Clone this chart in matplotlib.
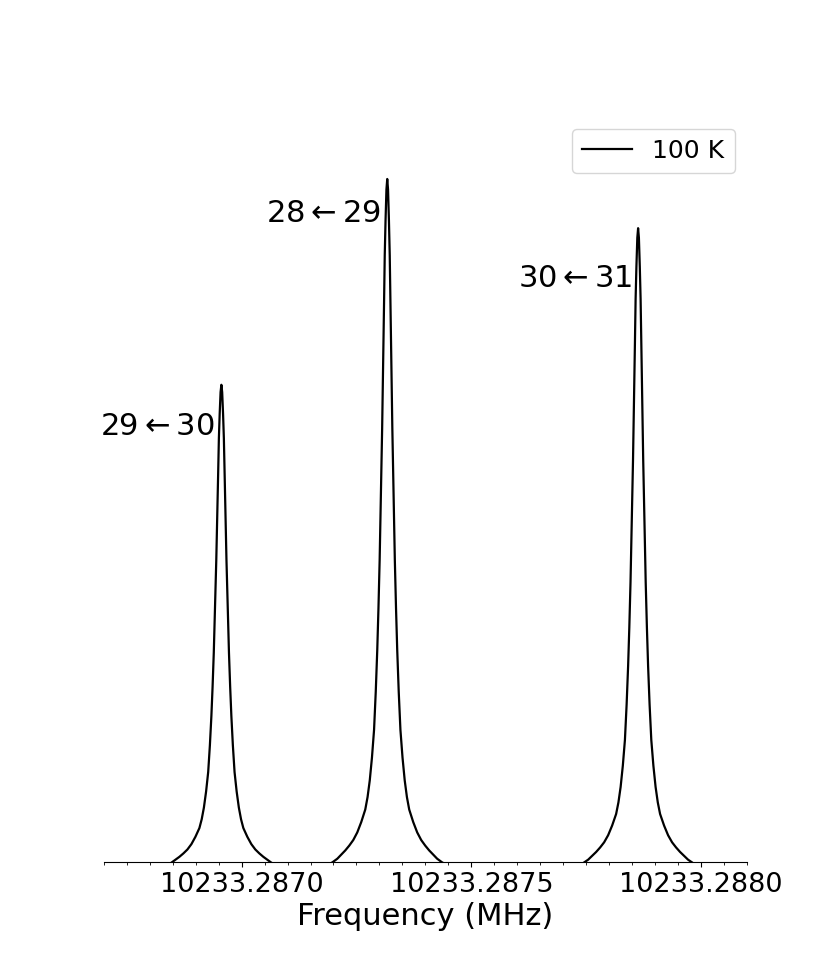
import numpy as np
import matplotlib
matplotlib.use("Agg")
import matplotlib.pyplot as plt
from matplotlib.ticker import MultipleLocator, FormatStrFormatter

# line centres (MHz), relative intensities and labels
centres = [10233.286956, 10233.287317, 10233.287863]
heights = [0.703, 1.000, 0.929]
labels = [r'$29\leftarrow30$', r'$28\leftarrow29$', r'$30\leftarrow31$']

# half line profile read from the 28<-29 peak: offset from centre (pixels of the
# reference, 460 px = 0.001 MHz) vs fraction of the peak
prof_px = [0.0, 0.8, 1.7, 2.5, 3.2, 4.0, 5.1, 6.3, 7.6, 8.8, 10.0, 11.5, 13.2,
           15.3, 17.5, 19.7, 22.0, 26.0, 30.0, 34.0, 38.0, 42.0, 46.0, 50.0,
           55.0, 60.0, 70.0]
prof_frac = [1.0, 0.985, 0.94, 0.89, 0.82, 0.74, 0.64, 0.55, 0.45, 0.38, 0.32,
             0.26, 0.205, 0.165, 0.132, 0.108, 0.09, 0.072, 0.057, 0.046, 0.038,
             0.031, 0.025, 0.019, 0.0137, 0.010, 0.007]

# label offsets in points (layout only)
label_offsets = [(-5, -30), (-5, -25), (-4, -36)]

off = np.asarray(prof_px) * 0.001 / 460
frac = np.asarray(prof_frac)
xs, ys = [], []
for c, h in zip(centres, heights):
    xs.append(np.concatenate([c - off[::-1], c + off[1:]]))
    ys.append(h * np.concatenate([frac[::-1], frac[1:]]))
x = np.concatenate(xs)
y = np.concatenate(ys)

fig, ax = plt.subplots(figsize=(8.3, 9.69), dpi=100)
ax.plot(x, y, 'k-', lw=1.6, label='100 K')

for c, h, lab, (dx, dy) in zip(centres, heights, labels, label_offsets):
    ax.annotate(lab, (c, h), xytext=(dx, dy), textcoords='offset points',
                ha='right', va='center', fontsize=22)

ax.set_xlim(10233.2867, 10233.2881)
ax.set_ylim(0.0137, 1.0905)
ax.xaxis.set_major_locator(MultipleLocator(0.0005))
ax.xaxis.set_minor_locator(MultipleLocator(0.00005))
ax.xaxis.set_major_formatter(FormatStrFormatter('%.4f'))
ax.tick_params(axis='x', labelsize=19.5)
ax.set_yticks([])
for s in ['left', 'right', 'top']:
    ax.spines[s].set_visible(False)
ax.set_xlabel('Frequency (MHz)', fontsize=22, labelpad=2.5)
ax.legend(loc='upper right', fontsize=18)

fig.savefig('out.png', dpi=100)
